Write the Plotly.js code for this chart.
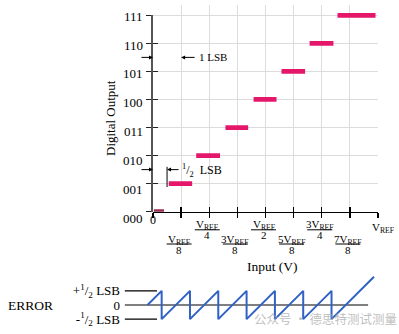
<!DOCTYPE html>
<html><head><meta charset="utf-8">
<script src="https://cdn.plot.ly/plotly-3.0.1.min.js"></script>
<style>html,body{margin:0;padding:0;background:#fff;}#chart{width:399px;height:334px;}</style>
</head><body><div id="chart"></div>
<script>
// ---------------- data ----------------
const codes = [0, 1, 2, 3, 4, 5, 6, 7];
const codeLabels = ['000', '001', '010', '011', '100', '101', '110', '111'];
const codeStart = [0.004, 0.070, 0.192, 0.322, 0.447, 0.571, 0.696, 0.820];
const codeEnd   = [0.049, 0.174, 0.298, 0.423, 0.549, 0.676, 0.802, 0.989];
const xTickVals = [0, 0.125, 0.25, 0.375, 0.5, 0.625, 0.75, 0.875, 1];
const zeroLabel = '0';
const fullLabel = 'V<sub>REF</sub>';
const upperVals = [0.25, 0.5, 0.75];
const upperNums = ['V<sub>REF</sub>', 'V<sub>REF</sub>', '3V<sub>REF</sub>'];
const upperDens = ['4', '2', '4'];
const lowerVals = [0.125, 0.375, 0.625, 0.875];
const lowerNums = ['V<sub>REF</sub>', '3V<sub>REF</sub>', '5V<sub>REF</sub>', '7V<sub>REF</sub>'];
const lowerDens = ['8', '8', '8', '8'];
const errX = [0, 0.0625, 0.0625, 0.1875, 0.1875, 0.3125, 0.3125, 0.4375, 0.4375, 0.5625, 0.5625, 0.6875, 0.6875, 0.8125, 0.8125, 1];
const errY = [0, 0.5, -0.5, 0.5, -0.5, 0.5, -0.5, 0.5, -0.5, 0.5, -0.5, 0.5, -0.5, 0.5, -0.5, 1];
const refX = [-0.1, 0.042, null, -0.1, 0.974, null, -0.1, 0.042];
const refY = [0.5, 0.5, null, 0, 0, null, -0.5, -0.5];
const errTickVals = [0.5, 0, -0.5];
const errTickText = ['+<sup>1</sup>/<sub>2</sub> LSB', '0', '-<sup>1</sup>/<sub>2</sub> LSB'];

// ---------------- styles / geometry ----------------
const barColors = ['#9b2c55', '#e5176b', '#e5176b', '#e5176b', '#e5176b', '#e5176b', '#e5176b', '#e5176b'];
const W = 399, H = 334;
const px = v => v / W;
const py = v => 1 - v / H;
const serif = 'Liberation Serif, Times New Roman, serif';
const X0 = 153, X1 = 378;          // pixel of 0 and VREF
const xs = X1 - X0;
const Y0 = 211.7, Y7 = 15.3;       // pixel of code 0 and 7
const ys = (Y0 - Y7) / 7;
const yTop = 7.35;
const LBL0 = 218.4, LBLs = 28.9;   // code label rows
const E0x = 147.5, Exs = 226.5, E0y = 305, Eys = 28.3;

const traces = [];
traces.push({
  type: 'bar', orientation: 'h', xaxis: 'x', yaxis: 'y',
  y: codes, base: codeStart, x: codeEnd.map((e, i) => e - codeStart[i]),
  width: 0.17, marker: {color: barColors, line: {width: 0}},
  cliponaxis: false, hoverinfo: 'skip', showlegend: false
});
traces.push({
  type: 'scatter', mode: 'lines', xaxis: 'x2', yaxis: 'y2',
  x: refX, y: refY, connectgaps: false,
  line: {color: '#000', width: 1.2}, hoverinfo: 'skip', showlegend: false
});
traces.push({
  type: 'scatter', mode: 'lines', xaxis: 'x2', yaxis: 'y2',
  x: errX, y: errY,
  line: {color: '#2f62c4', width: 2}, hoverinfo: 'skip', showlegend: false
});
const ghost = (xa, ya) => ({type: 'scatter', mode: 'markers', x: [0.5], y: [1], xaxis: xa, yaxis: ya,
  marker: {opacity: 0, size: 1}, hoverinfo: 'skip', showlegend: false});
traces.push(ghost('x4', 'y'), ghost('x5', 'y5'), ghost('x5', 'y6'));

const ann = [];
const shapes = [];
const tf = (s) => ({family: serif, size: s, color: '#000'});
const txt = (o) => Object.assign({showarrow: false, xanchor: 'center', yanchor: 'middle'}, o);

codeLabels.forEach((t, i) => ann.push(txt({
  xref: 'paper', yref: 'paper', x: px(145), y: py(LBL0 - LBLs * codes[i]),
  xanchor: 'right', text: t, font: tf(13)
})));

ann.push(txt({xref: 'x', yref: 'paper', x: 0, y: py(220), text: zeroLabel, font: tf(12)}));
ann.push(txt({xref: 'x', yref: 'paper', x: 1, xshift: 5, y: py(228), text: fullLabel, font: tf(11)}));

function frac(vals, nums, dens, numY, barY, denY) {
  vals.forEach((v, i) => {
    ann.push(txt({xref: 'x', yref: 'paper', x: v, xshift: -2, y: py(numY), text: nums[i], font: tf(11)}));
    ann.push(txt({xref: 'x', yref: 'paper', x: v, xshift: -2, y: py(denY), text: dens[i], font: tf(11)}));
    shapes.push({type: 'line', xref: 'x', yref: 'paper', x0: v - 14.5 / xs, x1: v + 10.5 / xs,
      y0: py(barY), y1: py(barY), line: {color: '#000', width: 1}});
  });
}
frac(upperVals, upperNums, upperDens, 225, 229.8, 235);
frac(lowerVals, lowerNums, lowerDens, 239.5, 244, 249.5);

// LSB markers
const arrow = (x, y, ax) => ({xref: 'x', yref: 'y', x: x, y: y, ax: ax, ay: 0, text: '',
  showarrow: true, arrowhead: 2, arrowsize: 0.8, arrowwidth: 1, arrowcolor: '#000', standoff: 0});
ann.push(arrow(0, 5.5, -13), arrow(0.125, 5.5, 15), arrow(0, 1.5, -13), arrow(0.0625, 1.5, 13));
ann.push(txt({xref: 'x', yref: 'y', x: 0.125, xshift: 16, y: 5.5, xanchor: 'left',
  text: '1 LSB', font: tf(11)}));
ann.push(txt({xref: 'x', yref: 'y', x: 0.0625, xshift: 13, y: 1.5, yshift: -1, xanchor: 'left',
  text: '<sup>1</sup>/<sub>2</sub>  LSB', font: tf(12)}));
shapes.push({type: 'line', xref: 'x', yref: 'y', x0: 0.0625, x1: 0.0625, y0: 0.88, y1: 1.6,
  line: {color: '#000', width: 1}});

// titles
ann.push(txt({xref: 'paper', yref: 'paper', x: px(110), y: py(118), textangle: -90,
  text: 'Digital Output', font: tf(13)}));
ann.push(txt({xref: 'paper', yref: 'paper', x: px(272.5), y: py(266.5),
  text: 'Input (V)', font: tf(13.5)}));
ann.push(txt({xref: 'paper', yref: 'paper', x: px(30.5), y: py(305),
  text: 'ERROR', font: tf(13.5)}));
ann.push(txt({xref: 'paper', yref: 'paper', x: px(252), y: py(318), xanchor: 'left',
  text: '公众号 · 德思特测试测量',
  font: {family: 'Noto Sans CJK SC', size: 12.5, color: 'rgba(170,170,170,0.75)'}}));

const axBase = {zeroline: false, showgrid: false, showticklabels: false, fixedrange: true};
const layout = {
  width: W, height: H, margin: {l: 0, r: 0, t: 0, b: 0},
  paper_bgcolor: '#fff', plot_bgcolor: 'rgba(0,0,0,0)',
  showlegend: false, font: tf(13),
  xaxis: Object.assign({}, axBase, {domain: [px(X0), px(X1)], range: [0, 1], anchor: 'y',
    showline: true, linecolor: '#000', linewidth: 1.5,
    ticks: 'outside', ticklen: 4.5, tickwidth: 1.3, tickcolor: '#000', tickvals: xTickVals,
    showgrid: true, gridcolor: '#dcdcdc', gridwidth: 1}),
  xaxis4: Object.assign({}, axBase, {overlaying: 'x', anchor: 'y', range: [0, 1],
    ticks: 'inside', ticklen: 4.5, tickwidth: 1.3, tickcolor: '#000', tickvals: xTickVals, showline: false}),
  yaxis: Object.assign({}, axBase, {domain: [py(Y0), py(Y0 - yTop * ys)], range: [0, yTop], anchor: 'x',
    showline: false, ticks: '', tickvals: codes, showgrid: true, gridcolor: '#dcdcdc', gridwidth: 1}),
  xaxis5: Object.assign({}, axBase, {domain: [px(X0), px(X1)], range: [0, 1], anchor: 'y5', visible: false}),
  yaxis5: Object.assign({}, axBase, {domain: [py(Y0), py(Y7)], range: [0, 7], anchor: 'x5',
    showline: true, linecolor: '#555', linewidth: 2,
    ticks: 'outside', ticklen: 5, tickwidth: 1.3, tickcolor: '#222', tickvals: codes}),
  yaxis6: Object.assign({}, axBase, {overlaying: 'y5', anchor: 'x5', range: [0, 7],
    ticks: 'inside', ticklen: 5, tickwidth: 1.3, tickcolor: '#222', tickvals: codes, showline: false}),
  xaxis2: Object.assign({}, axBase, {domain: [px(121), px(385)],
    range: [(121 - E0x) / Exs, (385 - E0x) / Exs], anchor: 'y2', visible: false}),
  yaxis2: Object.assign({}, axBase, {domain: [py(E0y + 0.8 * Eys), py(E0y - 1.2 * Eys)],
    range: [-0.8, 1.2], anchor: 'x2', showline: false, ticks: '',
    tickvals: errTickVals, ticktext: errTickText, showticklabels: true, tickfont: tf(13)}),
  annotations: ann, shapes: shapes
};

Plotly.newPlot('chart', traces, layout, {displayModeBar: false, staticPlot: true});
</script></body></html>
